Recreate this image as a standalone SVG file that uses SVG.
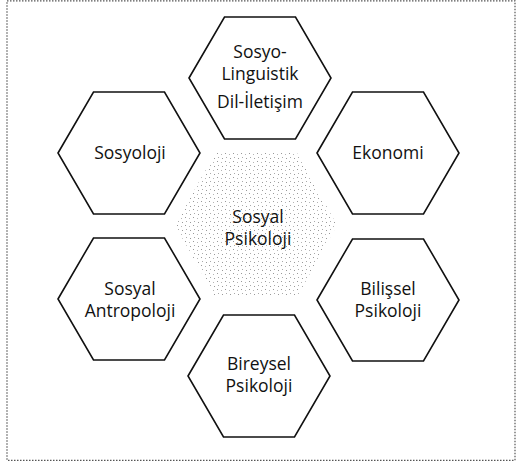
<svg xmlns="http://www.w3.org/2000/svg" width="517" height="463" viewBox="0 0 517 463">
<style>
.hex{fill:#fff;stroke:#111;stroke-width:1.6;stroke-linejoin:miter}
.t{font-family:"Open Sans","Liberation Sans",sans-serif;font-size:17.5px;fill:#111;text-anchor:middle}
.frame{fill:none;stroke:#555;stroke-width:1.2;stroke-dasharray:1.5 1.5}
</style>
<defs>
<pattern id="dots" width="8" height="8" patternUnits="userSpaceOnUse">
<rect x="1" y="1" width="1" height="1" fill="#999"/>
<rect x="5" y="2" width="1" height="1" fill="#b5b5b5"/>
<rect x="2" y="5" width="1" height="1" fill="#aaa"/>
<rect x="6" y="6" width="1" height="1" fill="#999"/>
</pattern>
</defs>
<rect class="frame" x="7" y="0.8" width="508" height="459.5"/>
<g id="center">
<polygon points="175,225 215,153 297,153 337,225 297,297 215,297" fill="url(#dots)"/>
<text class="t" x="258" y="223">Sosyal</text>
<text class="t" x="258" y="245">Psikoloji</text>
</g>
<g id="sosyolinguistik">
<polygon class="hex" points="189,78 224.5,17 295.5,17 331,78 295.5,139 224.5,139"/>
<text class="t" x="260" y="58">Sosyo-</text>
<text class="t" x="260" y="80">Linguistik</text>
<text class="t" x="260" y="108">Dil-İletişim</text>
</g>
<g id="sosyoloji">
<polygon class="hex" points="58,153 93.5,92 164.5,92 200,153 164.5,214 93.5,214"/>
<text class="t" x="130" y="159">Sosyoloji</text>
</g>
<g id="ekonomi">
<polygon class="hex" points="317,153 352.5,92 423.5,92 459,153 423.5,214 352.5,214"/>
<text class="t" x="388" y="159">Ekonomi</text>
</g>
<g id="antropoloji">
<polygon class="hex" points="58,299 93.5,238 164.5,238 200,299 164.5,360 93.5,360"/>
<text class="t" x="130" y="295">Sosyal</text>
<text class="t" x="130" y="317">Antropoloji</text>
</g>
<g id="bilissel">
<polygon class="hex" points="317,300 352.5,239 423.5,239 459,300 423.5,361 352.5,361"/>
<text class="t" x="388" y="295">Bilişsel</text>
<text class="t" x="388" y="317">Psikoloji</text>
</g>
<g id="bireysel">
<polygon class="hex" points="188,376 223.5,315 294.5,315 330,376 294.5,437 223.5,437"/>
<text class="t" x="259" y="370">Bireysel</text>
<text class="t" x="259" y="392">Psikoloji</text>
</g>
<g id="connectors"/>
</svg>
